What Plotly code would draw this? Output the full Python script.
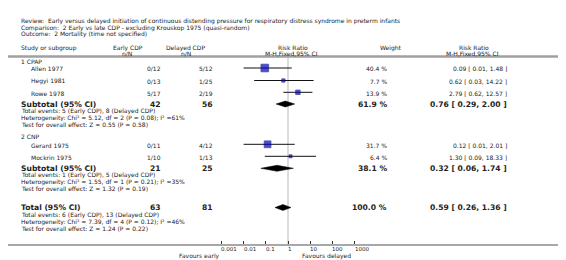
import math
import plotly.graph_objects as go

W, H = 566, 260

# ---------------- data ----------------
review = "Early versus delayed initiation of continuous distending pressure for respiratory distress syndrome in preterm infants"
comparison = "2 Early vs late CDP - excluding Krouskop 1975 (quasi-random)"
outcome = "2 Mortality (time not specified)"

subgroups = ["1 CPAP", "2 CNP"]
studies = [["Allen 1977", "Hegyi 1981", "Rowe 1978"], ["Gerard 1975", "Mockrin 1975"]]
early_events = [[0, 0, 5], [0, 1]]
early_total = [[12, 13, 17], [11, 10]]
delayed_events = [[5, 1, 2], [4, 1]]
delayed_total = [[12, 25, 19], [12, 13]]
weights = [[40.4, 7.7, 13.9], [31.7, 6.4]]
rr = [[0.09, 0.62, 2.79], [0.12, 1.30]]
rr_lo = [[0.01, 0.03, 0.62], [0.01, 0.09]]
rr_hi = [[1.48, 14.22, 12.57], [2.01, 18.33]]

sub_n_early = [42, 21]
sub_n_delayed = [56, 25]
sub_ev_early = [5, 1]
sub_ev_delayed = [8, 5]
sub_weight = [61.9, 38.1]
sub_rr = [0.76, 0.32]
sub_lo = [0.29, 0.06]
sub_hi = [2.00, 1.74]
sub_chi2 = [5.12, 1.55]
sub_df = [2, 1]
sub_p_het = [0.08, 0.21]
sub_i2 = [61, 35]
sub_z = [0.55, 1.32]
sub_p = [0.58, 0.19]

tot_n_early, tot_n_delayed = 63, 81
tot_ev_early, tot_ev_delayed = 6, 13
tot_weight = 100.0
tot_rr, tot_lo, tot_hi = 0.59, 0.26, 1.36
tot_chi2, tot_df, tot_p_het, tot_i2 = 7.39, 4, 0.12, 46
tot_z, tot_p = 1.24, 0.22

tick_vals = [0.001, 0.01, 0.1, 1, 10, 100, 1000]
tick_labels = ["0.001", "0.01", "0.1", "1", "10", "100", "1000"]

# ---------------- layout (pixels) ----------------
FONT = "DejaVu Sans"
TXT = "#222222"
FS = 6      # body font
FSB = 7.6   # bold rows
PLOT_BOTTOM = 236  # px where axis sits
X_NAME, X_STUDY = 13, 23
X_EARLY, X_DELAYED = 153, 205
X_WEIGHT, X_RR = 379, 499

group_label_y = [53.5, 128.3]
study_y = [[60, 72.5, 84.3], [136.3, 148.3]]
subtotal_y = [96, 160.3]
stats_dy = [6.8, 13.6, 20.4]
total_y = 199.5

annotations = []


def px2paper(x, y):
    return x / W, (PLOT_BOTTOM - y) / PLOT_BOTTOM


def txt(x, y, s, anchor="left", size=FS, bold=False):
    px, py = px2paper(x, y)
    annotations.append(dict(
        x=px, y=py, xref="paper", yref="paper", text=("<b>%s</b>" % s) if bold else s,
        showarrow=False, xanchor=anchor, yanchor="middle", borderpad=0, borderwidth=0,
        font=dict(family=FONT, size=size, color=TXT)))


def rr_text(r, lo, hi):
    return "%.2f [ %.2f, %.2f ]" % (r, lo, hi)


# header
txt(X_NAME, 13.3, "Review:  " + review)
txt(X_NAME, 19.7, "Comparison:  " + comparison)
txt(X_NAME, 26.1, "Outcome:  " + outcome)
txt(X_NAME, 39.5, "Study or subgroup")
txt(120, 39.5, "Early CDP", "center")
txt(119, 45.3, "n/N", "center")
txt(177, 39.5, "Delayed CDP", "center")
txt(178, 45.3, "n/N", "center")
txt(285, 39.5, "Risk Ratio", "center")
txt(283, 45.3, "M-H,Fixed,95% CI", "center")
txt(383, 39.5, "Weight", "center")
txt(466, 39.5, "Risk Ratio", "center")
txt(464, 45.3, "M-H,Fixed,95% CI", "center")

sq_x, sq_y, sq_s = [], [], []
ci_x, ci_y = [], []
diamonds = []

for g in range(len(subgroups)):
    txt(X_NAME, group_label_y[g], subgroups[g])
    for i, name in enumerate(studies[g]):
        y = study_y[g][i]
        ty = y + 0.8
        txt(X_STUDY, ty, name)
        txt(X_EARLY, ty, "%d/%d" % (early_events[g][i], early_total[g][i]), "right")
        txt(X_DELAYED, ty, "%d/%d" % (delayed_events[g][i], delayed_total[g][i]), "right")
        txt(X_WEIGHT, ty, "%.1f %%" % weights[g][i], "right")
        txt(X_RR, ty, rr_text(rr[g][i], rr_lo[g][i], rr_hi[g][i]), "right")
        sq_x.append(rr[g][i]); sq_y.append(y); sq_s.append(1.2 * weights[g][i] ** 0.5)
        ci_x += [rr_lo[g][i], rr_hi[g][i], None]
        ci_y += [y, y, None]
    y = subtotal_y[g]
    txt(X_NAME, y, "Subtotal (95% CI)", size=FSB, bold=True)
    txt(X_EARLY, y, str(sub_n_early[g]), "right", FSB, True)
    txt(X_DELAYED, y, str(sub_n_delayed[g]), "right", FSB, True)
    txt(X_WEIGHT, y, "%.1f %%" % sub_weight[g], "right", FSB, True)
    txt(X_RR, y, rr_text(sub_rr[g], sub_lo[g], sub_hi[g]), "right", FSB, True)
    diamonds.append((sub_rr[g], sub_lo[g], sub_hi[g], y))
    txt(X_NAME, y + stats_dy[0], "Total events: %d (Early CDP), %d (Delayed CDP)" % (sub_ev_early[g], sub_ev_delayed[g]))
    txt(X_NAME, y + stats_dy[1], "Heterogeneity: Chi² = %.2f, df = %d (P = %.2f); I² =%d%%" % (sub_chi2[g], sub_df[g], sub_p_het[g], sub_i2[g]))
    txt(X_NAME, y + stats_dy[2], "Test for overall effect: Z = %.2f (P = %.2f)" % (sub_z[g], sub_p[g]))

y = total_y
txt(X_NAME, y, "Total (95% CI)", size=FSB, bold=True)
txt(X_EARLY, y, str(tot_n_early), "right", FSB, True)
txt(X_DELAYED, y, str(tot_n_delayed), "right", FSB, True)
txt(X_WEIGHT, y, "%.1f %%" % tot_weight, "right", FSB, True)
txt(X_RR, y, rr_text(tot_rr, tot_lo, tot_hi), "right", FSB, True)
diamonds.append((tot_rr, tot_lo, tot_hi, y))
txt(X_NAME, y + 7.8, "Total events: %d (Early CDP), %d (Delayed CDP)" % (tot_ev_early, tot_ev_delayed))
txt(X_NAME, y + 14.6, "Heterogeneity: Chi² = %.2f, df = %d (P = %.2f); I² =%d%%" % (tot_chi2, tot_df, tot_p_het, tot_i2))
txt(X_NAME, y + 21.4, "Test for overall effect: Z = %.2f (P = %.2f)" % (tot_z, tot_p))

txt(212, 248, "Favours early", "right")
txt(294, 248, "Favours delayed", "left")

# tick labels: placed on the log axis, left-aligned at each tick (RevMan style)
tick_label_y = (PLOT_BOTTOM - 241) / PLOT_BOTTOM
for v, lab in zip(tick_vals, tick_labels):
    annotations.append(dict(
        x=math.log10(v), xref="x", y=tick_label_y, yref="paper", text=lab,
        showarrow=False, xanchor="left", yanchor="middle", borderpad=0, borderwidth=0,
        font=dict(family=FONT, size=5.5, color=TXT)))

fig = go.Figure()

# line of no effect
fig.add_trace(go.Scatter(x=[1, 1], y=[49.5, PLOT_BOTTOM], mode="lines",
                         line=dict(color="#dcdcdc", width=2), hoverinfo="skip"))
# CI lines
fig.add_trace(go.Scatter(x=ci_x, y=ci_y, mode="lines", line=dict(color="#111111", width=1),
                         hoverinfo="skip"))
# squares
fig.add_trace(go.Scatter(x=sq_x, y=sq_y, mode="markers",
                         marker=dict(symbol="square", size=sq_s, color="#0000c8",
                                     line=dict(color="#000070", width=0.8)),
                         hoverinfo="skip"))
# diamonds
for (r, lo, hi, yy) in diamonds:
    fig.add_trace(go.Scatter(x=[lo, r, hi, r, lo], y=[yy, yy - 3, yy, yy + 3, yy],
                             mode="lines", fill="toself", fillcolor="#000000",
                             line=dict(color="#000000", width=0.5), hoverinfo="skip"))

dec = 22.2  # px per decade
fig.update_layout(
    width=W, height=H, margin=dict(l=0, r=0, t=0, b=H - PLOT_BOTTOM),
    paper_bgcolor="white", plot_bgcolor="white", showlegend=False,
    annotations=annotations,
    xaxis=dict(type="log", range=[-280 / dec, (W - 280) / dec],
               tickvals=tick_vals, showticklabels=False,
               ticks="inside", ticklen=3, tickcolor="#333333", tickwidth=1,
               showline=True, linecolor="#a8a8a8", linewidth=2,
               showgrid=False, zeroline=False, fixedrange=True),
    yaxis=dict(range=[PLOT_BOTTOM, 0], visible=False, showgrid=False, zeroline=False,
               fixedrange=True),
    shapes=[dict(type="line", xref="paper", yref="paper", x0=0, x1=1,
                 y0=(PLOT_BOTTOM - 48.5) / PLOT_BOTTOM, y1=(PLOT_BOTTOM - 48.5) / PLOT_BOTTOM,
                 line=dict(color="#a0a0a0", width=2.5))],
)

fig.write_html("out.html")
